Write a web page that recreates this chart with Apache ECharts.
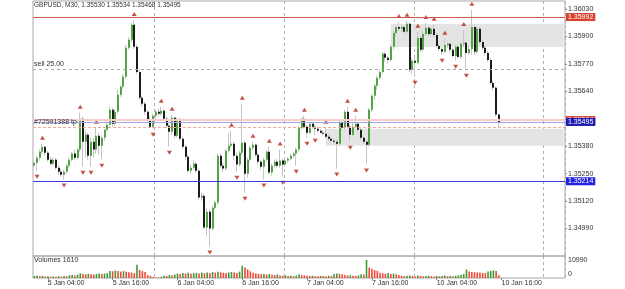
<!DOCTYPE html>
<html>
<head>
<meta charset="utf-8">
<script src="https://cdn.jsdelivr.net/npm/echarts@6/dist/echarts.min.js"></script>
<style>
html, body { margin: 0; padding: 0; background: #fff; }
#main { width: 625px; height: 289px; }
</style>
</head>
<body>
<div id="main"></div>
<script>
// GBPUSD M30 bars, 5 Jan 01:30 -> 10 Jan 15:30 (weekend skipped)
var tickLabels = ['5 Jan 04:00', '5 Jan 16:00', '6 Jan 04:00', '6 Jan 16:00', '7 Jan 04:00', '7 Jan 16:00', '10 Jan 04:00', '10 Jan 16:00'];
var daySeps = ['6 Jan 00:00', '7 Jan 00:00', '10 Jan 00:00', '11 Jan 00:00'];

// [open, close, low, high]
var ohlc = [
  [1.35288, 1.35302, 1.35278, 1.35316], [1.35302, 1.35326, 1.35264, 1.35335], [1.35326, 1.35354, 1.35312, 1.35364],
  [1.35354, 1.35378, 1.35345, 1.35392], [1.35378, 1.35349, 1.35335, 1.35382], [1.35349, 1.35316, 1.35307, 1.35359],
  [1.35316, 1.35297, 1.35288, 1.35330], [1.35297, 1.35316, 1.35288, 1.35326], [1.35316, 1.35278, 1.35269, 1.35326],
  [1.35278, 1.35259, 1.35245, 1.35293], [1.35259, 1.35245, 1.35236, 1.35274], [1.35245, 1.35259, 1.35222, 1.35269],
  [1.35259, 1.35288, 1.35250, 1.35297], [1.35288, 1.35316, 1.35278, 1.35326], [1.35316, 1.35345, 1.35307, 1.35354],
  [1.35345, 1.35326, 1.35312, 1.35364], [1.35326, 1.35364, 1.35316, 1.35373], [1.35364, 1.35510, 1.35354, 1.35539],
  [1.35510, 1.35401, 1.35283, 1.35520], [1.35401, 1.35434, 1.35326, 1.35458], [1.35434, 1.35335, 1.35316, 1.35444],
  [1.35335, 1.35401, 1.35283, 1.35420], [1.35401, 1.35364, 1.35326, 1.35420], [1.35364, 1.35430, 1.35345, 1.35468],
  [1.35430, 1.35382, 1.35340, 1.35444], [1.35382, 1.35420, 1.35316, 1.35430], [1.35420, 1.35458, 1.35406, 1.35463],
  [1.35458, 1.35482, 1.35449, 1.35496], [1.35482, 1.35553, 1.35472, 1.35567], [1.35553, 1.35486, 1.35472, 1.35562],
  [1.35486, 1.35543, 1.35477, 1.35557], [1.35543, 1.35624, 1.35534, 1.35647], [1.35624, 1.35662, 1.35614, 1.35671],
  [1.35662, 1.35709, 1.35652, 1.35723], [1.35709, 1.35846, 1.35699, 1.35860], [1.35846, 1.35884, 1.35837, 1.35898],
  [1.35884, 1.35955, 1.35874, 1.35964], [1.35955, 1.35851, 1.35841, 1.35978], [1.35851, 1.35732, 1.35723, 1.35860],
  [1.35732, 1.35610, 1.35600, 1.35742], [1.35610, 1.35581, 1.35567, 1.35619], [1.35581, 1.35543, 1.35529, 1.35591],
  [1.35543, 1.35505, 1.35491, 1.35553], [1.35505, 1.35472, 1.35468, 1.35520], [1.35472, 1.35524, 1.35463, 1.35534],
  [1.35524, 1.35543, 1.35505, 1.35553], [1.35543, 1.35534, 1.35520, 1.35557], [1.35534, 1.35548, 1.35524, 1.35567],
  [1.35548, 1.35510, 1.35501, 1.35557], [1.35510, 1.35477, 1.35468, 1.35520], [1.35477, 1.35449, 1.35378, 1.35486],
  [1.35449, 1.35515, 1.35434, 1.35529], [1.35515, 1.35430, 1.35416, 1.35520], [1.35430, 1.35505, 1.35420, 1.35515],
  [1.35505, 1.35416, 1.35406, 1.35515], [1.35416, 1.35378, 1.35368, 1.35425], [1.35378, 1.35330, 1.35316, 1.35387],
  [1.35330, 1.35264, 1.35255, 1.35340], [1.35264, 1.35278, 1.35250, 1.35293], [1.35278, 1.35297, 1.35269, 1.35316],
  [1.35297, 1.35264, 1.35255, 1.35307], [1.35264, 1.35137, 1.35127, 1.35274], [1.35137, 1.35146, 1.35122, 1.35160],
  [1.35146, 1.34995, 1.34985, 1.35155], [1.34995, 1.35070, 1.34952, 1.35084], [1.35070, 1.34990, 1.34905, 1.35080],
  [1.34990, 1.35089, 1.34980, 1.35099], [1.35089, 1.35113, 1.35080, 1.35122], [1.35113, 1.35335, 1.35103, 1.35345],
  [1.35335, 1.35288, 1.35278, 1.35345], [1.35288, 1.35274, 1.35259, 1.35302], [1.35274, 1.35359, 1.35264, 1.35368],
  [1.35359, 1.35382, 1.35349, 1.35444], [1.35382, 1.35392, 1.35373, 1.35453], [1.35392, 1.35335, 1.35316, 1.35401],
  [1.35335, 1.35293, 1.35259, 1.35349], [1.35293, 1.35349, 1.35283, 1.35359], [1.35349, 1.35397, 1.35335, 1.35581],
  [1.35397, 1.35250, 1.35160, 1.35406], [1.35250, 1.35316, 1.35231, 1.35326], [1.35316, 1.35373, 1.35307, 1.35382],
  [1.35373, 1.35387, 1.35359, 1.35401], [1.35387, 1.35340, 1.35330, 1.35392], [1.35340, 1.35307, 1.35293, 1.35349],
  [1.35307, 1.35283, 1.35269, 1.35316], [1.35283, 1.35316, 1.35222, 1.35326], [1.35316, 1.35354, 1.35307, 1.35364],
  [1.35354, 1.35255, 1.35245, 1.35378], [1.35255, 1.35288, 1.35241, 1.35297], [1.35288, 1.35307, 1.35278, 1.35316],
  [1.35307, 1.35288, 1.35278, 1.35321], [1.35288, 1.35312, 1.35278, 1.35364], [1.35312, 1.35293, 1.35236, 1.35321],
  [1.35293, 1.35312, 1.35283, 1.35321], [1.35312, 1.35321, 1.35302, 1.35330], [1.35321, 1.35335, 1.35312, 1.35345],
  [1.35335, 1.35345, 1.35326, 1.35354], [1.35345, 1.35364, 1.35288, 1.35373], [1.35364, 1.35468, 1.35354, 1.35477],
  [1.35468, 1.35510, 1.35458, 1.35515], [1.35510, 1.35472, 1.35463, 1.35524], [1.35472, 1.35444, 1.35420, 1.35482],
  [1.35444, 1.35486, 1.35439, 1.35496], [1.35486, 1.35472, 1.35463, 1.35496], [1.35472, 1.35463, 1.35434, 1.35482],
  [1.35463, 1.35453, 1.35444, 1.35472], [1.35453, 1.35444, 1.35439, 1.35463], [1.35444, 1.35439, 1.35430, 1.35453],
  [1.35439, 1.35425, 1.35416, 1.35468], [1.35425, 1.35416, 1.35406, 1.35434], [1.35416, 1.35406, 1.35397, 1.35425],
  [1.35406, 1.35401, 1.35387, 1.35416], [1.35401, 1.35392, 1.35274, 1.35411], [1.35392, 1.35491, 1.35382, 1.35505],
  [1.35491, 1.35468, 1.35458, 1.35505], [1.35468, 1.35543, 1.35458, 1.35553], [1.35543, 1.35472, 1.35463, 1.35567],
  [1.35472, 1.35434, 1.35401, 1.35482], [1.35434, 1.35472, 1.35425, 1.35496], [1.35472, 1.35486, 1.35463, 1.35524],
  [1.35486, 1.35458, 1.35449, 1.35496], [1.35458, 1.35420, 1.35411, 1.35468], [1.35420, 1.35401, 1.35392, 1.35430],
  [1.35401, 1.35387, 1.35293, 1.35411], [1.35387, 1.35553, 1.35378, 1.35562], [1.35553, 1.35619, 1.35543, 1.35628],
  [1.35619, 1.35666, 1.35600, 1.35676], [1.35666, 1.35704, 1.35647, 1.35714], [1.35704, 1.35732, 1.35695, 1.35742],
  [1.35732, 1.35818, 1.35723, 1.35827], [1.35818, 1.35799, 1.35780, 1.35827], [1.35799, 1.35789, 1.35770, 1.35808],
  [1.35789, 1.35851, 1.35780, 1.35860], [1.35851, 1.35917, 1.35837, 1.35926], [1.35917, 1.35945, 1.35903, 1.35955],
  [1.35945, 1.35936, 1.35926, 1.35969], [1.35936, 1.35945, 1.35922, 1.35955], [1.35945, 1.35922, 1.35912, 1.35955],
  [1.35922, 1.35960, 1.35912, 1.35974], [1.35960, 1.35742, 1.35732, 1.35964], [1.35742, 1.35785, 1.35723, 1.35794],
  [1.35785, 1.35775, 1.35709, 1.35799], [1.35775, 1.35893, 1.35766, 1.35922], [1.35893, 1.35837, 1.35827, 1.35903],
  [1.35837, 1.35912, 1.35827, 1.35926], [1.35912, 1.35941, 1.35903, 1.35964], [1.35941, 1.35912, 1.35903, 1.35950],
  [1.35912, 1.35936, 1.35903, 1.35945], [1.35936, 1.35907, 1.35898, 1.35955], [1.35907, 1.35855, 1.35846, 1.35917],
  [1.35855, 1.35841, 1.35832, 1.35865], [1.35841, 1.35827, 1.35813, 1.35851], [1.35827, 1.35860, 1.35822, 1.35889],
  [1.35860, 1.35865, 1.35846, 1.35874], [1.35865, 1.35837, 1.35827, 1.35870], [1.35837, 1.35808, 1.35799, 1.35846],
  [1.35808, 1.35851, 1.35785, 1.35860], [1.35851, 1.35803, 1.35794, 1.35860], [1.35803, 1.35865, 1.35794, 1.35874],
  [1.35865, 1.35870, 1.35851, 1.35931], [1.35870, 1.35822, 1.35742, 1.35879], [1.35822, 1.35841, 1.35813, 1.35855],
  [1.35841, 1.35945, 1.35813, 1.36026], [1.35945, 1.35827, 1.35813, 1.35955], [1.35827, 1.35936, 1.35818, 1.35945],
  [1.35936, 1.35874, 1.35865, 1.35945], [1.35874, 1.35846, 1.35837, 1.35884], [1.35846, 1.35822, 1.35808, 1.35855],
  [1.35822, 1.35789, 1.35780, 1.35832], [1.35789, 1.35680, 1.35671, 1.35799], [1.35680, 1.35657, 1.35643, 1.35690],
  [1.35657, 1.35530, 1.35520, 1.35666], [1.35530, 1.35495, 1.35468, 1.35534]
];

var volumes = [
  1200, 1500, 1100, 1300, 900, 1000, 800, 950, 700, 1100,
  850, 1200, 1000, 1700, 1900, 1600, 2100, 2900, 2400, 2200,
  2600, 2300, 2000, 2500, 2800, 2400, 2700, 3000, 4300, 4100,
  4500, 4200, 3900, 4200, 3800, 3500, 3300, 2900, 8100, 4900,
  4200, 3600, 1700, 1400, 600, 300, 250, 700, 1400, 1200,
  1800, 1600, 2100, 2700, 2500, 3000, 2800, 3200, 2600, 2900,
  3100, 2800, 3300, 2900, 3400, 3100, 3600, 3300, 3800, 3500,
  3200, 3000, 3400, 3700, 3300, 3000, 3900, 7500, 6400, 5300,
  4100, 3200, 2800, 2600, 2300, 2500, 2100, 2400, 2000, 1800,
  2200, 1500, 1300, 1600, 1200, 1400, 1100, 1500, 2200, 1800,
  1600, 1300, 1200, 1400, 1100, 1000, 1300, 1200, 1100, 1400,
  1300, 2400, 2700, 2500, 2200, 1800, 1500, 1700, 1400, 1300,
  1600, 2300, 2100, 10990, 6300, 5600, 4800, 4400, 3200, 2900,
  2600, 3000, 2400, 2700, 2200, 1900, 1400, 1100, 1300, 1600,
  1200, 900, 1500, 1300, 1000, 1200, 1400, 1100, 900, 1300,
  1000, 1200, 1500, 1100, 1300, 1000, 1400, 1600, 1800, 2400,
  5200, 3900, 3700, 3500, 3400, 3300, 3100, 3000, 3900, 4400,
  4700, 4300, 1610
];

// bill williams fractal bars
var upFractals = [3, 17, 23, 37, 47, 51, 73, 77, 81, 87, 91, 100, 108, 116, 119, 135, 138, 142, 145, 148, 152, 159, 162];
var downFractals = [1, 11, 18, 21, 25, 44, 50, 65, 75, 78, 85, 92, 97, 101, 104, 112, 117, 123, 141, 151, 156, 160];

// price levels
var slLevel = 1.35992;
var bidLevel = 1.35495;
var askLevel = 1.35504;
var tpLevel = 1.35472;
var sellLevel = 1.35746;
var lowLevel = 1.35214;
// supply / demand zones: [start bar, top, bottom]
var zones = [[132, 1.35959, 1.35850], [108, 1.35463, 1.35382]];

// category axis: 30 min bars, friday close -> monday open
var categories = [];
function pad(n) { return n < 10 ? '0' + n : '' + n; }
var t = Date.UTC(2022, 0, 5, 1, 30);
for (var k = 0; k < 197; k++) {
    var d = new Date(t);
    categories.push(d.getUTCDate() + ' Jan ' + pad(d.getUTCHours()) + ':' + pad(d.getUTCMinutes()));
    if (d.getUTCDate() === 7 && d.getUTCHours() === 23 && d.getUTCMinutes() === 30) {
        t = Date.UTC(2022, 0, 10, 0, 0);
    } else {
        t += 30 * 60000;
    }
}

var font = 'Liberation Sans, Arial, sans-serif';
var myChart = echarts.init(document.getElementById('main'));

function renderCandle(params, api) {
    var i = api.value(0);
    var o = api.coord([i, api.value(1)]);
    var c = api.coord([i, api.value(2)]);
    var l = api.coord([i, api.value(3)]);
    var h = api.coord([i, api.value(4)]);
    var x = Math.round(o[0]) - 1;
    var up = api.value(2) >= api.value(1);
    var top = Math.min(o[1], c[1]);
    var bh = Math.max(Math.abs(o[1] - c[1]), 1);
    return {
        type: 'group',
        children: [
            { type: 'line', shape: { x1: x + 0.5, y1: h[1], x2: x + 0.5, y2: l[1] }, style: { stroke: '#c6c6c6', lineWidth: 1 } },
            { type: 'rect', shape: { x: x, y: top, width: 2, height: bh }, style: { fill: up ? '#52a446' : '#1c1c1c' } }
        ]
    };
}

function tag(value, bg) {
    return {
        show: true, position: 'end', distance: 1,
        formatter: value.toFixed(5), color: '#fff', backgroundColor: bg,
        fontSize: 7, fontFamily: font, padding: [1, 2, 0, 2]
    };
}

var candleData = ohlc.map(function (r, i) { return [i, r[0], r[1], r[2], r[3]]; });
var upData = upFractals.map(function (i) { return [i, ohlc[i][3]]; });
var downData = downFractals.map(function (i) { return [i, ohlc[i][2]]; });

var option = {
    animation: false,
    textStyle: { fontFamily: font },
    title: [
        { text: 'GBPUSD, M30, 1.35530 1.35534 1.35468 1.35495', left: 34, top: 2, padding: 0,
          textStyle: { fontSize: 6.5, fontWeight: 'normal', color: '#333', fontFamily: font } },
        { text: 'Volumes 1610', left: 34, top: 257, padding: 0,
          textStyle: { fontSize: 7, fontWeight: 'normal', color: '#333', fontFamily: font } }
    ],
    grid: [
        { left: 33, right: 60, top: 1, height: 255, show: true, borderColor: '#a8a8a8', borderWidth: 1, backgroundColor: 'transparent' },
        { left: 33, right: 60, top: 256, height: 22, show: true, borderColor: '#a8a8a8', borderWidth: 1, backgroundColor: 'transparent' }
    ],
    xAxis: [
        { type: 'category', gridIndex: 0, data: categories, boundaryGap: true,
          axisLine: { show: false }, axisTick: { show: false }, axisLabel: { show: false },
          splitLine: { show: true, interval: function (i, v) { return daySeps.indexOf(v) >= 0; },
                       lineStyle: { color: '#b0b0b0', type: [3, 3], width: 1 } } },
        { type: 'category', gridIndex: 1, data: categories, boundaryGap: true,
          axisLine: { show: false },
          axisTick: { show: true, alignWithLabel: true, length: 2, interval: function (i, v) { return tickLabels.indexOf(v) >= 0; }, lineStyle: { color: '#888' } },
          axisLabel: { show: true, interval: function (i, v) { return tickLabels.indexOf(v) >= 0; },
                       align: 'left', fontSize: 7, color: '#333', margin: 2, fontFamily: font },
          splitLine: { show: true, interval: function (i, v) { return daySeps.indexOf(v) >= 0; },
                       lineStyle: { color: '#b0b0b0', type: [3, 3], width: 1 } } }
    ],
    yAxis: [
        { type: 'value', gridIndex: 0, position: 'right', scale: true,
          min: 1.34860, max: 1.36068, interval: 0.0013,
          axisLine: { show: false }, axisTick: { show: true, length: 2, lineStyle: { color: '#888' } },
          splitLine: { show: false },
          axisLabel: { show: true, showMinLabel: false, showMaxLabel: false, margin: 3,
                       fontSize: 7, color: '#333', fontFamily: font,
                       formatter: function (v) { return v.toFixed(5); } } },
        { type: 'value', gridIndex: 1, position: 'right', min: 0, max: 13430, interval: 10990,
          axisLine: { show: false }, axisTick: { show: false }, splitLine: { show: false },
          axisLabel: { show: true, showMaxLabel: false, margin: 3, fontSize: 7, color: '#333', fontFamily: font,
                       formatter: function (v) { return v === 0 ? '{z|0}' : String(v); },
                       rich: { z: { fontSize: 7, color: '#333', fontFamily: font, padding: [0, 0, 7, 0] } } } }
    ],
    series: [
        // zones behind the candles
        { type: 'line', data: [], xAxisIndex: 0, yAxisIndex: 0, z: 1, silent: true,
          markArea: { silent: true, itemStyle: { color: '#e4e4e4' },
                      data: zones.map(function (z) { return [{ xAxis: z[0], yAxis: z[1] }, { xAxis: 196, yAxis: z[2] }]; }) } },
        { type: 'custom', name: 'GBPUSD', xAxisIndex: 0, yAxisIndex: 0, z: 2, clip: true,
          renderItem: renderCandle, data: candleData, encode: { x: 0, y: [1, 2, 3, 4] } },
        { type: 'scatter', data: upData, xAxisIndex: 0, yAxisIndex: 0, z: 3, symbol: 'triangle',
          symbolSize: [5, 4], symbolOffset: [0, -6], itemStyle: { color: '#b8261c' } },
        { type: 'scatter', data: downData, xAxisIndex: 0, yAxisIndex: 0, z: 3, symbol: 'triangle',
          symbolSize: [5, 4], symbolRotate: 180, symbolOffset: [0, 6], itemStyle: { color: '#b8261c' } },
        // order / price lines
        { type: 'line', data: [], xAxisIndex: 0, yAxisIndex: 0, z: 4, silent: true,
          markLine: { silent: true, symbol: ['none', 'none'], precision: 5,
            data: [
                { yAxis: sellLevel, lineStyle: { color: '#a8a8a8', type: [3, 3], width: 1 },
                  label: { show: true, position: 'insideStartTop', distance: [1, 1], formatter: 'sell 25.00', fontSize: 7, color: '#333', fontFamily: font } },
                { yAxis: askLevel, lineStyle: { color: '#f6cccc', type: 'solid', width: 2 }, label: tag(askLevel, '#e0463a') },
                { yAxis: tpLevel, lineStyle: { color: '#f2a894', type: [3, 2], width: 1 },
                  label: { show: true, position: 'insideStartTop', distance: [1, 1], formatter: '#72591388 tp', fontSize: 7, color: '#333', fontFamily: font } },
                { yAxis: bidLevel, lineStyle: { color: '#a4a4e6', type: 'solid', width: 1 }, label: tag(bidLevel, '#1c1cb0') },
                { yAxis: slLevel, lineStyle: { color: '#c8584a', type: 'solid', width: 1 }, label: tag(slLevel, '#d8402e') },
                { yAxis: lowLevel, lineStyle: { color: '#3a3ae0', type: 'solid', width: 1 }, label: tag(lowLevel, '#2222e0') }
            ] } },
        { type: 'bar', data: volumes, xAxisIndex: 1, yAxisIndex: 1, barWidth: 1.6, silent: true,
          itemStyle: { color: function (p) {
              var i = p.dataIndex;
              return (i === 0 || volumes[i] > volumes[i - 1]) ? '#3f9a35' : '#ee4a3a';
          } } }
    ]
};

myChart.setOption(option);
</script>
</body>
</html>
